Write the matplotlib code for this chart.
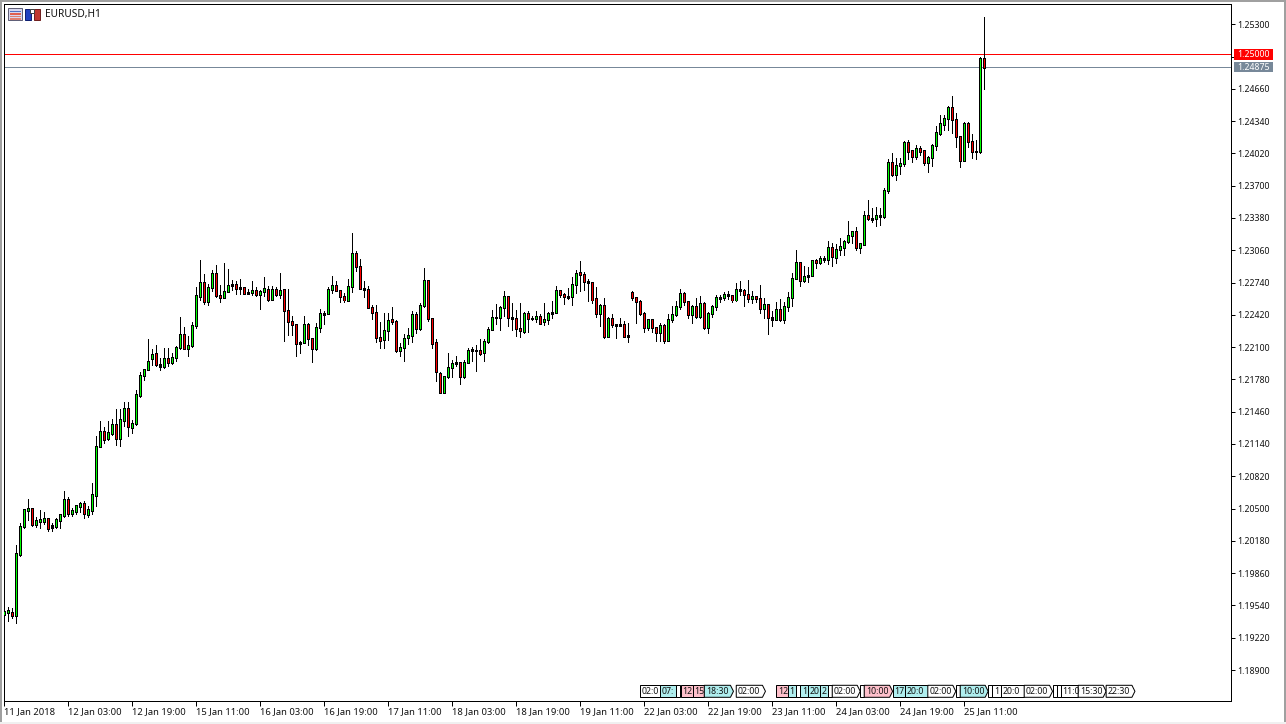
import numpy as np
import matplotlib
matplotlib.use("Agg")
import matplotlib.pyplot as plt
from matplotlib.patches import Polygon, Rectangle
from matplotlib.transforms import blended_transform_factory

symbol_title = "EURUSD,H1"
# Prices in points (1e-5)
highs = [119499,119528,119515,120143,120357,120496,120599,120506,120417,120490,
120470,120407,120357,120407,120450,120678,120618,120506,120539,120562,
120579,120529,120757,121216,121371,121305,121371,121391,121490,121490,
121560,121560,121378,121679,121857,121887,122184,122085,122121,121992,
122095,122095,122042,122115,122399,122300,122210,122349,122699,122966,
122824,122725,122864,122913,122718,122936,122877,122765,122755,122775,
122695,122675,122758,122695,122666,122798,122705,122705,122695,122837,
122676,122676,122408,122329,122160,122408,122339,122190,122339,122477,
122458,122695,122804,122758,122666,122636,122775,123234,123055,122976,
122755,122705,122517,122517,122352,122438,122438,122501,122369,122141,
122230,122289,122461,122448,122537,122887,122765,122379,122180,121853,
121810,122042,121972,122012,121952,121972,122091,122098,122124,122180,
122180,122299,122468,122527,122507,122659,122606,122537,122468,122537,
122448,122458,122408,122458,122428,122537,122448,122557,122706,122666,
122639,122689,122798,122864,122957,122845,122775,122736,122699,122528,
122587,122399,122429,122329,122389,122359,122339,122656,122597,122567,
122448,122379,122379,122300,122339,122329,122429,122508,122557,122676,
122643,122557,122518,122590,122607,122547,122448,122518,122617,122617,
122647,122653,122607,122736,122755,122676,122769,122656,122607,122716,
122587,122528,122461,122551,122580,122551,122646,122835,123066,122944,
122907,122897,122954,122973,122999,122999,123152,123132,123119,123182,
123162,123353,123254,123291,123132,123452,123561,123479,123489,123479,
123677,123968,124027,123978,123978,124143,124156,124057,124106,124096,
124044,123997,124113,124294,124403,124397,124493,124588,124420,124195,
124331,124331,124212,124152,124975,125375]
lows = [119370,119390,119413,119363,120027,120311,120391,120325,120315,120305,
120344,120275,120282,120311,120311,120414,120430,120423,120450,120463,
120404,120420,120447,120523,121107,121147,121183,121226,121127,121117,
121322,121216,121246,121329,121603,121771,121870,121926,121910,121870,
121890,121917,121930,121959,122078,122078,122009,122098,122290,122567,
122524,122517,122652,122593,122543,122583,122652,122666,122629,122629,
122633,122623,122613,122606,122474,122606,122553,122573,122606,122586,
122157,122223,122220,122008,122045,122140,122117,121949,122071,122249,
122325,122428,122636,122652,122547,122543,122553,122642,122851,122672,
122593,122487,122375,122147,122088,122094,122167,122329,122055,122009,
121959,122127,122154,122240,122266,122494,122355,122088,121767,121645,
121652,121791,121800,121909,121731,121791,121939,121959,121860,122018,
121959,122141,122270,122329,122266,122408,122306,122270,122213,122197,
122236,122253,122369,122349,122329,122316,122329,122388,122438,122593,
122527,122577,122517,122633,122653,122666,122554,122534,122395,122306,
122191,122201,122300,122191,122306,122197,122148,122567,122339,122419,
122247,122270,122247,122158,122164,122138,122158,122349,122412,122478,
122514,122389,122339,122389,122389,122280,122240,122395,122468,122547,
122567,122577,122547,122557,122617,122508,122547,122537,122547,122438,
122386,122227,122306,122372,122362,122336,122455,122504,122772,122703,
122749,122749,122802,122881,122927,122947,122927,122901,122930,123010,
123010,123135,123129,123063,123030,123109,123363,123340,123297,123307,
123376,123624,123793,123760,123819,123895,123968,123938,123968,124007,
123905,123839,123892,124050,124199,124255,124255,124222,124083,123882,
123948,124080,123974,123967,124020,124654]
opens = [119446,119472,119475,119442,120047,120318,120483,120500,120344,120374,
120374,120397,120328,120324,120384,120433,120585,120453,120473,120523,
120546,120443,120483,120632,121117,121259,121190,121246,121338,121196,
121375,121487,121305,121345,121623,121814,121874,121983,122032,121910,
121910,121983,121950,122002,122098,122230,122088,122118,122316,122603,
122745,122557,122695,122834,122616,122593,122656,122712,122725,122685,
122695,122636,122642,122666,122626,122656,122676,122576,122676,122626,
122676,122467,122358,122329,122131,122150,122329,122190,122091,122299,
122428,122438,122676,122715,122666,122606,122563,122705,123032,122903,
122676,122676,122497,122448,122200,122180,122269,122369,122349,122071,
122101,122200,122220,122428,122289,122517,122765,122379,122141,121843,
121655,121804,121903,121933,121943,121804,121952,122081,122068,122071,
122042,122151,122279,122392,122398,122497,122606,122398,122379,122289,
122253,122438,122379,122379,122408,122349,122369,122435,122448,122666,
122626,122593,122597,122725,122835,122815,122736,122736,122577,122438,
122508,122207,122379,122319,122319,122329,122207,122646,122587,122557,
122438,122290,122369,122290,122240,122310,122161,122369,122419,122498,
122627,122557,122419,122498,122399,122537,122290,122438,122498,122584,
122587,122607,122607,122567,122666,122666,122617,122577,122597,122577,
122478,122518,122376,122376,122468,122369,122498,122587,122785,122934,
122765,122795,122805,122954,122934,122973,122973,123092,122993,123072,
123092,123142,123211,123241,123092,123115,123400,123367,123370,123390,
123390,123657,123925,123806,123895,123915,124123,124044,123994,124073,
124044,123925,123984,124103,124215,124311,124361,124479,124351,124185,
123954,124321,124133,124034,124040,124965]
closes = [119479,119489,119442,120050,120318,120486,120500,120344,120377,120391,
120397,120305,120315,120387,120437,120585,120453,120476,120526,120546,
120447,120486,120635,121120,121259,121187,121249,121338,121196,121378,
121487,121309,121348,121626,121814,121874,121953,122029,121923,121923,
121983,121950,122002,122101,122230,122088,122121,122310,122607,122745,
122557,122695,122834,122616,122596,122656,122715,122725,122685,122695,
122636,122646,122666,122626,122656,122685,122576,122676,122626,122666,
122467,122355,122325,122131,122150,122329,122190,122091,122299,122438,
122438,122676,122715,122666,122606,122567,122705,123032,122903,122685,
122685,122497,122448,122197,122170,122269,122368,122349,122071,122101,
122190,122220,122428,122289,122517,122765,122379,122131,121863,121655,
121804,121903,121933,121943,121804,121952,122071,122071,122071,122038,
122151,122279,122398,122398,122497,122606,122398,122379,122289,122260,
122438,122388,122388,122408,122339,122369,122438,122448,122666,122626,
122606,122606,122725,122834,122815,122746,122746,122567,122438,122508,
122207,122379,122329,122329,122329,122207,122211,122587,122557,122438,
122290,122369,122290,122240,122310,122161,122369,122419,122498,122627,
122557,122419,122498,122399,122537,122290,122438,122498,122587,122590,
122617,122617,122567,122676,122676,122617,122577,122597,122577,122478,
122518,122389,122389,122468,122369,122498,122587,122785,122934,122765,
122795,122805,122954,122934,122983,122983,123092,123003,123072,123102,
123142,123211,123241,123092,123122,123400,123370,123373,123400,123400,
123657,123925,123806,123895,123915,124123,124040,123994,124073,124040,
123925,123984,124103,124222,124314,124361,124479,124351,124192,123954,
124321,124133,124034,124043,124965,124876]

date_labels = ["11 Jan 2018","12 Jan 03:00","12 Jan 19:00","15 Jan 11:00","16 Jan 03:00",
               "16 Jan 19:00","17 Jan 11:00","18 Jan 03:00","18 Jan 19:00","19 Jan 11:00",
               "22 Jan 03:00","22 Jan 19:00","23 Jan 11:00","24 Jan 03:00","24 Jan 19:00","25 Jan 11:00"]
date_every = 16
price_ticks = [1.25300,1.24980,1.24660,1.24340,1.24020,1.23700,1.23380,1.23060,1.22740,1.22420,
               1.22100,1.21780,1.21460,1.21140,1.20820,1.20500,1.20180,1.19860,1.19540,1.19220,1.18900]
hidden_tick = 1.24980
level_round = 1.25000
level_bid = 1.24875

# Calendar event flags on the bar axis
flag_start = [158.9,163.95,167.8,169,172,174.9,182.9,192.9,195.8,197.8,198.9,200.9,203.9,205.9,206.9,213.9,
              214.9,222,225,230.8,237.8,238.9,245.9,246.9,249,254.9,262,263,264,268.4,275.4]
flag_end = [163.95,167.8,168.8,172,174.9,182.2,190.2,195.8,197.8,198.9,200.9,203.9,205.9,206.9,213.9,214.9,
            222,225,230.8,237.8,238.9,245.9,246.9,249,254.9,262,263,264,268.4,275.4,282.6]
flag_text = ["02:0","07:","","12","15","18:30","02:00","12","1","","1","20","2","","02:00","",
             "10:00","17","20:0","02:00","","10:00","","1","20:0","02:00","","","11:0","15:30","22:30"]
flag_kind = ["n","m","n","h","h","m","n","h","m","n","m","m","m","n","n","n",
             "h","m","m","n","n","m","n","n","n","n","n","n","n","n","n"]
flag_arrow = [0,0,0,0,0,1,1,0,0,0,0,0,0,0,1,0,1,0,0,1,0,1,0,0,0,1,0,0,0,1,1]

W, H = 1286, 724
L, R, T, B = 4.4, 1231.4, 4.4, 701.4
fig = plt.figure(figsize=(W/100, H/100), dpi=100, facecolor="white")
ax = fig.add_axes([L/W, 1-B/H, (R-L)/W, (B-T)/H])
FONT = "Noto Sans"
px = 0.72
ppx = 0.0000991  # price per pixel

n = len(closes)
assert len(highs) == n and len(lows) == n and len(opens) == n
x = np.arange(n)
hi = np.array(highs)/1e5; lo = np.array(lows)/1e5
op = np.array(opens)/1e5; cl = np.array(closes)/1e5

ax.set_xlim((L-4.0)/4, (L-4.0)/4+(R-L)/4)
ax.set_ylim(1.25540-ppx*B, 1.25540-ppx*T)
ax.hlines([level_round], *ax.get_xlim(), color="#FF0000", lw=px, antialiased=False, zorder=1)
ax.hlines([level_bid], *ax.get_xlim(), color="#778899", lw=px, antialiased=False, zorder=1)
ax.vlines(x, lo, hi, color="black", lw=px, antialiased=False, zorder=2)
top = np.maximum(op, cl); bot = np.minimum(op, cl)
lc = ax.vlines(x, bot-ppx/2, top+ppx/2, color="black", lw=3*px, antialiased=False, zorder=3)
lc.set_capstyle("butt")
up = cl >= op
inner = (top-bot) > 1.5*ppx
lc2 = ax.vlines(x[inner], bot[inner]+ppx/2, top[inner]-ppx/2,
                colors=np.where(up[inner], "#00FF00", "#FF0000").tolist(), lw=px, antialiased=False, zorder=4)
lc2.set_capstyle("butt")

for s in ax.spines.values():
    s.set_linewidth(px); s.set_color("black")

ax.yaxis.tick_right()
ax.set_yticks(price_ticks)
ax.set_yticklabels(["" if t == hidden_tick else f"{t:.5f}" for t in price_ticks],
                   fontsize=6.3, family=FONT, color="#111111")
ax.tick_params(axis="y", length=3, width=px, pad=1.2)
tick_pos = x[::date_every][:len(date_labels)]
ax.set_xticks(tick_pos)
ax.set_xticklabels(date_labels, fontsize=6.8, family=FONT, ha="left", color="#111111")
ax.tick_params(axis="x", length=3.4, width=px, pad=0.8)

# price labels in the right margin
ytr = blended_transform_factory(ax.transAxes, ax.transData)
box_w = 39/(R-L)
for lvl, col, h in ((level_round, "#FF0000", 0.00056), (level_bid, "#778899", 0.00053)):
    ax.add_patch(Rectangle((1+2.5/(R-L), lvl-h), box_w, 2*h, transform=ytr, color=col, clip_on=False, lw=0, zorder=6))
    ax.text(1+6/(R-L), lvl, f"{lvl:.5f}", transform=ytr, color="white", fontsize=6.3, family=FONT,
            va="center", ha="left", clip_on=False, zorder=7)

# calendar flags
ftr = ax.get_xaxis_transform()
y0, y1 = (B-697.3)/(B-T), (B-685.3)/(B-T)
fills = {"n": "white", "h": "#FFC0CB", "m": "#AFEEEE"}
for s, e, t, k, a in zip(flag_start, flag_end, flag_text, flag_kind, flag_arrow):
    s, e = s+0.125, e+0.125
    tip = 0.75 if a else 0
    poly = Polygon([(s, y0), (e-tip, y0), (e, (y0+y1)/2), (e-tip, y1), (s, y1)], closed=True,
                   transform=ftr, facecolor=fills[k], edgecolor="black", lw=px, zorder=5, clip_on=False)
    ax.add_patch(poly)
    if t:
        ax.text(s+0.4, (y0+y1)/2, t, transform=ftr, fontsize=6.3, family=FONT, va="center",
                ha="left", color="#111111", zorder=6)

# window chrome, title and toolbar icons
ov = fig.add_axes([0, 0, 1, 1], zorder=10)
ov.set_xlim(0, W); ov.set_ylim(H, 0); ov.axis("off"); ov.patch.set_alpha(0)
for r in ((0, 0, W, 1.6, "#A0A0A0"), (0, 0, 1.6, H, "#A0A0A0"), (W-2, 0, 2, H, "#A0A0A0"), (0, H-2, W, 2, "#F0F0F0")):
    ov.add_patch(Rectangle(r[:2], r[2], r[3], color=r[4], lw=0))
ov.add_patch(Rectangle((8, 8), 14, 12, facecolor="#D8D8F0", edgecolor="#606078", lw=px))
for yy, c in ((10.5, "#5070C0"), (13, "#E06050"), (15.5, "#E08070"), (18, "#E08070")):
    ov.add_patch(Rectangle((9.5, yy), 11, 1.5, color=c, lw=0))
ov.add_patch(Rectangle((25, 9), 6, 11, facecolor="#2040C0", edgecolor="#102070", lw=px))
ov.add_patch(Rectangle((33.5, 9), 6, 11, facecolor="#C03830", edgecolor="#702020", lw=px))
ov.add_patch(Rectangle((30, 9), 4, 4, facecolor="white", edgecolor="#404040", lw=px))
ov.text(45, 14.5, symbol_title, fontsize=7.3, family=FONT, va="center", ha="left", color="#111111")

fig.savefig("out.png", dpi=100)
